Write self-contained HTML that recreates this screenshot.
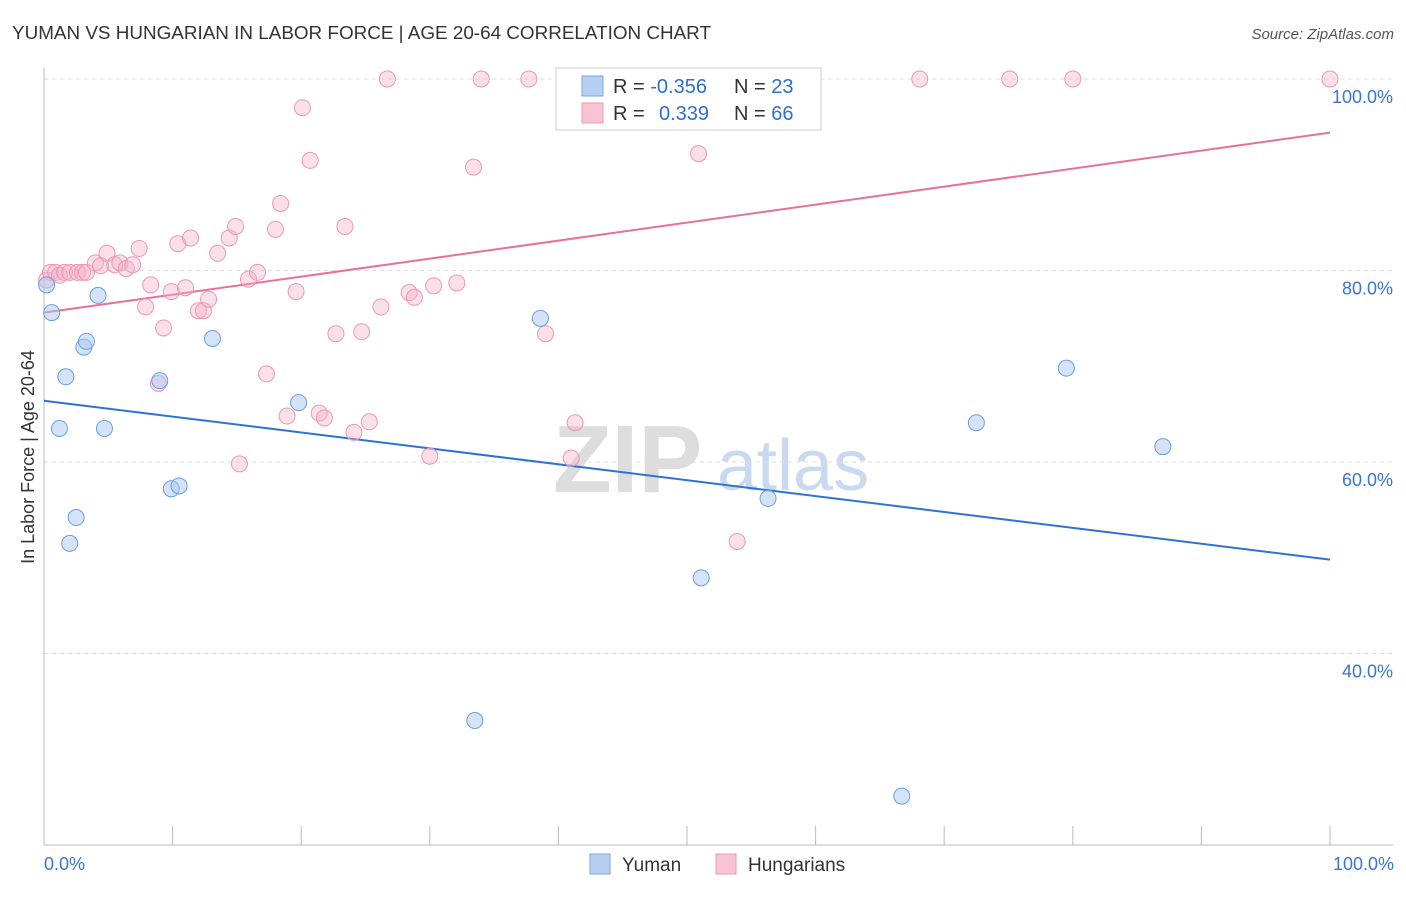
<!DOCTYPE html>
<html><head><meta charset="utf-8">
<style>
body{margin:0;background:#fff;font-family:"Liberation Sans",sans-serif;}
svg text{font-family:"Liberation Sans",sans-serif;}
</style></head>
<body>
<svg id="chart" width="1406" height="892" xmlns="http://www.w3.org/2000/svg">
<text x="12" y="39" font-size="18" fill="#333" textLength="699" lengthAdjust="spacingAndGlyphs">YUMAN VS HUNGARIAN IN LABOR FORCE | AGE 20-64 CORRELATION CHART</text>
<text x="1394" y="39" font-size="15" fill="#555" text-anchor="end" font-style="italic">Source: ZipAtlas.com</text>
<text x="553" y="492" font-size="96" fill="#ddd" font-family="Liberation Serif" font-weight="bold">ZIP</text>
<text x="717" y="490" font-size="72" fill="#c9daf0">atlas</text>
<g id="grid"></g>
<g id="axes"></g>
<g id="lines"></g>
<g id="points"></g>
<text transform="translate(34,457) rotate(-90)" font-size="18" fill="#333" text-anchor="middle">In Labor Force | Age 20-64</text>
<text x="44" y="870" font-size="18" fill="#3a76d0">0.0%</text>
<text x="1394" y="870" font-size="18" fill="#3a76d0" text-anchor="end">100.0%</text>
<g>
<rect x="556" y="68" width="265" height="62" fill="#fff" stroke="#ccc"/>
<rect x="582" y="76" width="21" height="20" fill="#b5d0f3" stroke="#7aa6e0"/>
<rect x="582" y="103" width="21" height="20" fill="#f8c4d4" stroke="#eb98b3"/>
<text x="613" y="93" font-size="20" fill="#333">R = <tspan fill="#2f6fd0">-0.356</tspan></text>
<text x="734" y="93" font-size="20" fill="#333">N = <tspan fill="#2f6fd0">23</tspan></text>
<text x="613" y="120" font-size="20" fill="#333">R = <tspan fill="#2f6fd0" x="659">0.339</tspan></text>
<text x="734" y="120" font-size="20" fill="#333">N = <tspan fill="#2f6fd0">66</tspan></text>
</g>
<g>
<rect x="590" y="854" width="20" height="20" fill="#b5d0f3" stroke="#7aa6e0"/>
<text x="622" y="871" font-size="19" fill="#333">Yuman</text>
</g>
<g>
<rect x="716" y="854" width="20" height="20" fill="#f8c4d4" stroke="#eb98b3"/>
<text x="748" y="871" font-size="19" fill="#333">Hungarians</text>
</g>
</svg>
<script>
const yTicks=[40,60,80,100];
const yTickLabels=["40.0%","60.0%","80.0%","100.0%"];
const xTicks=[0,10,20,30,40,50,60,70,80,90,100];
const yumanX=[0.2,0.6,1.7,1.2,2.5,2.0,4.2,3.1,3.3,4.7,9.0,9.9,10.5,13.1,19.8,33.5,38.6,51.1,56.3,66.7,72.5,79.5,87.0];
const yumanY=[78.5,75.6,68.9,63.5,54.2,51.5,77.4,72.0,72.6,63.5,68.5,57.2,57.5,72.9,66.2,33.0,75.0,47.9,56.2,25.1,64.1,69.8,61.6];
const hungX=[0.2,0.5,0.9,1.2,1.6,2.0,2.6,3.0,3.3,4.0,4.4,4.9,5.5,5.9,6.4,6.9,7.4,7.9,8.3,8.9,9.3,9.9,10.4,11.0,11.4,12.0,12.4,12.8,13.5,14.4,14.9,15.2,15.9,16.6,17.3,18.0,18.4,18.9,19.6,20.1,20.7,21.4,21.8,22.7,23.4,24.1,24.7,25.3,26.2,26.7,28.4,28.8,30.0,30.3,32.1,33.4,34.0,37.7,39.0,41.0,41.3,50.9,53.9,56.7,68.1,75.1,80.0,100];
const hungY=[79.0,79.8,79.8,79.5,79.8,79.8,79.8,79.8,79.8,80.8,80.5,81.8,80.6,80.8,80.2,80.6,82.3,76.2,78.5,68.2,74.0,77.8,82.8,78.2,83.4,75.8,75.8,77.0,81.8,83.4,84.6,59.8,79.1,79.8,69.2,84.3,87.0,64.8,77.8,97.0,91.5,65.1,64.6,73.4,84.6,63.1,73.6,64.2,76.2,100,77.7,77.2,60.6,78.4,78.7,90.8,100,100,73.4,60.4,64.1,92.2,51.7,100,100,100,100,100];
const yumanTrend=[66.4,49.8];
const hungTrend=[75.6,94.4];

const NS="http://www.w3.org/2000/svg";
const X=v=>44+v*12.86;
const Y=v=>79+(100-v)*9.575;
function mk(tag,attrs,parent){const e=document.createElementNS(NS,tag);for(const k in attrs)e.setAttribute(k,attrs[k]);document.getElementById(parent).appendChild(e);return e;}
yTicks.forEach((t,i)=>{
  const g=mk('line',{x1:44,x2:1393,y1:Y(t),y2:Y(t),stroke:'#ddd','stroke-dasharray':'4,4'},'grid');
  
  
  const tx=mk('text',{x:1393,y:Y(t)+24,'font-size':18,fill:'#3a76d0','text-anchor':'end'},'grid');
  tx.textContent=yTickLabels[i];
  
  
});
const ax=mk('line',{x1:44,x2:1393,y1:845,y2:845,stroke:'#bbb'},'axes');


const ay=mk('line',{x1:44,x2:44,y1:68,y2:845,stroke:'#bbb'},'axes');


xTicks.forEach(t=>{
  const l=mk('line',{x1:X(t),x2:X(t),y1:826,y2:845,stroke:'#bbb'},'axes');
  
  
});
const bl=mk('line',{x1:X(0),x2:X(100),y1:Y(yumanTrend[0]),y2:Y(yumanTrend[1]),stroke:'#2f72d6','stroke-width':2},'lines');


const pl=mk('line',{x1:X(0),x2:X(100),y1:Y(hungTrend[0]),y2:Y(hungTrend[1]),stroke:'#e8709a','stroke-width':2},'lines');


hungX.forEach((v,i)=>{
  const c=mk('circle',{cx:X(v),cy:Y(hungY[i]),r:8,fill:'rgba(245,176,200,0.4)',stroke:'#eb98b3','stroke-width':1},'points');
  
  
});
yumanX.forEach((v,i)=>{
  const c=mk('circle',{cx:X(v),cy:Y(yumanY[i]),r:8,fill:'rgba(170,200,240,0.5)',stroke:'#6a9ee0','stroke-width':1},'points');
  
  
});
</script>
</body></html>
